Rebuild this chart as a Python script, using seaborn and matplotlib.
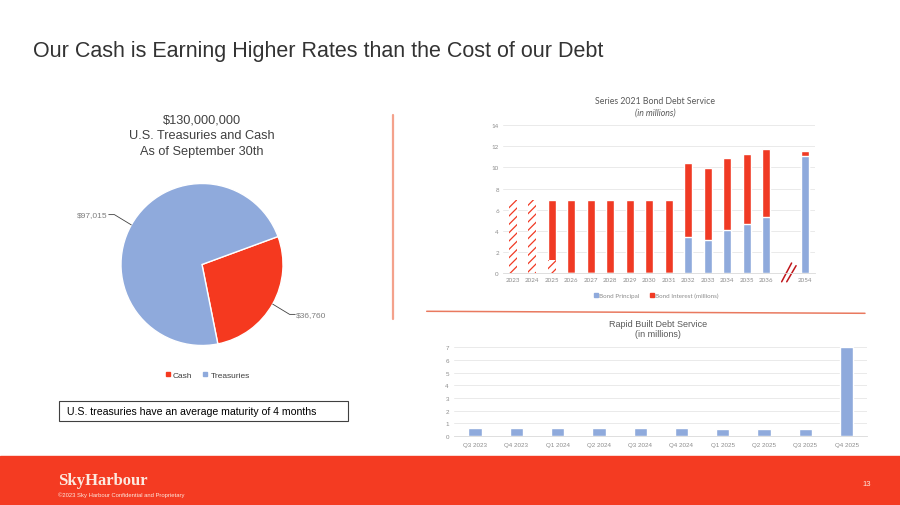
import numpy as np
import pandas as pd
import matplotlib
matplotlib.use("Agg")
import matplotlib.pyplot as plt
import seaborn as sns
from matplotlib.patches import Rectangle
from matplotlib.lines import Line2D

# ---------------- data ----------------
pie_labels = ["Cash", "Treasuries"]
pie_values = [36760, 97015]
pie_value_text = ["$36,760", "$97,015"]

bond_years = ["2023", "2024", "2025", "2026", "2027", "2028", "2029", "2030",
              "2031", "2032", "2033", "2034", "2035", "2036", "2054"]
bond_principal = [0, 0, 0, 0, 0, 0, 0, 0, 0, 3.46, 3.14, 4.12, 4.69, 5.31, 11.07]
bond_interest = [6.9, 6.9, 6.9, 6.9, 6.9, 6.9, 6.9, 6.9, 6.9, 6.95, 6.83, 6.73, 6.54, 6.39, 0.47]
bond_paid = [6.9, 6.9, 1.26, 0, 0, 0, 0, 0, 0, 0, 0, 0, 0, 0, 0]  # hatched (already paid) part

rapid_quarters = ["Q3 2023", "Q4 2023", "Q1 2024", "Q2 2024", "Q3 2024",
                  "Q4 2024", "Q1 2025", "Q2 2025", "Q3 2025", "Q4 2025"]
rapid_values = [0.66, 0.66, 0.66, 0.63, 0.60, 0.60, 0.58, 0.55, 0.55, 7.0]

# ---------------- style ----------------
RED = "#F03A24"
PIE_RED = "#F5391F"
BLUE = "#8FAADC"
FOOTER = "#F43B22"
CREAM = "#FCE9DF"
TICK = "#8C8C8C"

sns.set_theme(style="white")
plt.rcParams["font.family"] = ["Liberation Sans", "DejaVu Sans"]
plt.rcParams["hatch.color"] = RED
plt.rcParams["hatch.linewidth"] = 0.9

W, H = 900, 506
fig = plt.figure(figsize=(9, 5.06), dpi=100)
fig.patch.set_facecolor("white")


def fx(x):
    return x / W


def fy(y):
    return 1 - y / H


def axes_px(l, t, r, b):
    return fig.add_axes([l / W, 1 - b / H, (r - l) / W, (b - t) / H])


# ---------------- main title ----------------
fig.text(fx(33), fy(52), "Our Cash is Earning Higher Rates than the Cost of our Debt",
         fontsize=15.5, color="#333333", va="center", ha="left")

# ---------------- pie ----------------
R = 81
cx, cy = 202, 265.5
axp = axes_px(cx - 1.5 * R, cy - 1.5 * R, cx + 1.5 * R, cy + 1.5 * R)
wedges, _ = axp.pie(pie_values, colors=[PIE_RED, BLUE], startangle=20.2, counterclock=False,
                    wedgeprops=dict(edgecolor="white", linewidth=1.0))
axp.set_xlim(-1.5, 1.5)
axp.set_ylim(-1.5, 1.5)
axp.set_aspect("equal")
axp.axis("off")
for w, txt in zip(wedges, pie_value_text):
    ang = np.deg2rad((w.theta1 + w.theta2) / 2)
    ex, ey = np.cos(ang), np.sin(ang)
    kx, ky = 1.24 * ex, 1.26 * ey
    side = np.sign(ex)
    tx = kx + side * 0.07
    axp.plot([ex, kx, tx], [ey, ky, ky], color="#404040", lw=0.6, clip_on=False)
    axp.text(tx + side * 0.01, ky, txt, ha="left" if side > 0 else "right", va="center",
             fontsize=6, color="#7F7F7F")

fig.text(fx(202), fy(136), "$130,000,000\nU.S. Treasuries and Cash\nAs of September 30th",
         ha="center", va="center", fontsize=9.2, color="#404040", linespacing=1.42)

pie_handles = [Line2D([], [], marker="s", ls="", color=c, markersize=3) for c in [PIE_RED, BLUE]]
fig.legend(pie_handles, pie_labels, loc="center", bbox_to_anchor=(fx(207), fy(376)), ncol=2,
           frameon=False, fontsize=6, handletextpad=0.2, columnspacing=1.2,
           labelcolor="#404040", handlelength=0.8)

# note box
fig.add_artist(Rectangle((fx(59.3), fy(422.3)), fx(348.3) - fx(59.3), fy(401.7) - fy(422.3),
                         transform=fig.transFigure, fill=False, edgecolor="#404040", lw=0.8))
fig.text(fx(67), fy(412), "U.S. treasuries have an average maturity of 4 months",
         ha="left", va="center", fontsize=7.6, color="#000000")

# separators
fig.add_artist(Line2D([fx(392.7), fx(392.7)], [fy(116), fy(320)], color="#F4A28C", lw=1.6))
fig.add_artist(Line2D([fx(426.7), fx(865)], [fy(312.3), fy(314.3)], color="#E9795F", lw=1.1))

# ---------------- bond chart ----------------
ax1 = axes_px(503, 126, 815, 274.3)
df1 = pd.DataFrame({"year": bond_years, "principal": bond_principal,
                    "interest": bond_interest, "paid": bond_paid})
df1["total"] = df1["principal"] + df1["interest"]
order1 = bond_years[:-1] + [" "] + bond_years[-1:]
common = dict(order=order1, width=0.43, saturation=1, errorbar=None, ax=ax1)
sns.barplot(data=df1, x="year", y="total", color=RED, **common)
sns.barplot(data=df1, x="year", y="principal", color=BLUE, **common)
sns.barplot(data=df1, x="year", y="paid", color="white", **common)
for p in ax1.containers[-1]:
    p.set_hatch("////")
    p.set_edgecolor(RED)
    p.set_linewidth(0)
ax1.set_xlim(-0.5, 15.5)
ax1.set_ylim(0, 14)
ax1.set_yticks(range(0, 15, 2))
ax1.set_xticks(range(len(order1)))
ax1.set_xticklabels(order1)
ax1.set_xlabel("")
ax1.set_ylabel("")
ax1.yaxis.grid(True, color="#E6E6E6", lw=0.6)
ax1.set_axisbelow(True)
for s in ["top", "right", "left"]:
    ax1.spines[s].set_visible(False)
ax1.spines["bottom"].set_color("#D9D9D9")
ax1.spines["bottom"].set_linewidth(0.6)
ax1.tick_params(length=0, labelsize=4.5, colors=TICK, pad=3)
for lab in ax1.get_xticklabels() + ax1.get_yticklabels():
    lab.set_family(["Lato", "DejaVu Sans"])
# axis break marks at the gap slot
gap = order1.index(" ")
for off in (0.0, 0.26):
    ax1.plot([gap - 0.21 + off, gap + 0.30 + off - 0.03 * (off > 0)],
             [-0.8, 0.97 - 0.25 * (off > 0)], color="#C0161B", lw=1.1, clip_on=False)

fig.text(fx(655), fy(102), "Series 2021 Bond Debt Service", ha="center", va="center",
         fontsize=6.3, color="#595959", family=["Lato", "DejaVu Sans"])
fig.text(fx(655), fy(113), "(in millions)", ha="center", va="center", style="italic",
         fontsize=6.3, color="#595959", family=["Lato", "DejaVu Sans"])
bond_handles = [Line2D([], [], marker="s", ls="", color=c, markersize=3) for c in [BLUE, RED]]
fig.legend(bond_handles, ["Bond Principal", "Bond Interest (millions)"], loc="center",
           bbox_to_anchor=(fx(656), fy(296)), ncol=2, frameon=False,
           prop=dict(family=["Lato", "DejaVu Sans"], size=4.5), labelcolor=TICK,
           handletextpad=0.2, columnspacing=1.5, handlelength=0.8)

# ---------------- rapid built chart ----------------
ax2 = axes_px(454.4, 348.3, 867.3, 437)
df2 = pd.DataFrame({"quarter": rapid_quarters, "value": rapid_values})
sns.barplot(data=df2, x="quarter", y="value", color=BLUE, width=0.32, saturation=1,
            errorbar=None, ax=ax2)
ax2.set_xlim(-0.5, 9.5)
ax2.set_ylim(0, 7)
ax2.set_yticks(range(0, 8))
ax2.set_xlabel("")
ax2.set_ylabel("")
ax2.yaxis.grid(True, color="#E6E6E6", lw=0.6)
ax2.set_axisbelow(True)
for s in ["top", "right", "left"]:
    ax2.spines[s].set_visible(False)
ax2.spines["bottom"].set_color("#D9D9D9")
ax2.spines["bottom"].set_linewidth(0.6)
ax2.tick_params(length=0, labelsize=4.5, colors=TICK, pad=4)

fig.text(fx(658), fy(324.5), "Rapid Built Debt Service", ha="center", va="center",
         fontsize=6.5, color="#595959")
fig.text(fx(658), fy(335), "(in millions)", ha="center", va="center",
         fontsize=6.5, color="#595959")

# ---------------- footer ----------------
fig.add_artist(Rectangle((0, 0), 1, fy(457), transform=fig.transFigure,
                         color=FOOTER, zorder=0))
fig.text(fx(58), fy(481), "SkyHarbour", ha="left", va="center", fontsize=12,
         color=CREAM, family=["Liberation Serif", "DejaVu Serif"], weight="bold")
fig.text(fx(58), fy(495.5), "\u00a92023 Sky Harbour Confidential and Proprietary", ha="left",
         va="center", fontsize=4.2, color=CREAM)
fig.text(fx(867), fy(485), "13", ha="center", va="center", fontsize=5.5, color=CREAM)

fig.savefig("out.png", dpi=100)
